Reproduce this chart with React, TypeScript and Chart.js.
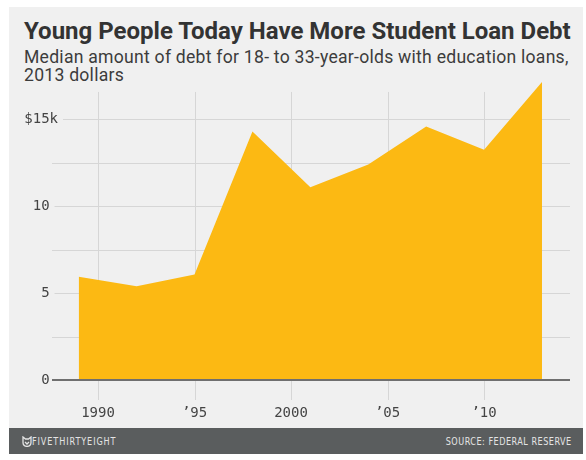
import React, { useEffect, useRef } from "react";
import Chart, { ChartConfiguration } from "chart.js/auto";

// survey years and median debt (thousands of 2013 dollars)
const years = [1989, 1992, 1995, 1998, 2001, 2004, 2007, 2010, 2013];
const medianDebt = [5.95, 5.4, 6.08, 14.3, 11.1, 12.4, 14.6, 13.25, 17.15];

const xTickYears = [1990, 1995, 2000, 2005, 2010];
const xTickLabels = ["1990", "\u201995", "2000", "\u201905", "\u201910"];
const yTickValues = [0, 5, 10, 15];
const yTickLabels = ["0", "5", "10", "$15k"];
const yGridValues = [2.5, 5, 7.5, 10, 12.5, 15];

const TICK_FONT = "DejaVu Sans Mono";
const Y_PAD = 6;
const LINE_INSET = 12; // grid lines start this far left of the plot area

// numbers right-aligned, "$" and "k" hang past them
function yTickLabel(i: number): string {
  const lab = yTickLabels[i];
  return lab.endsWith("k") ? lab : lab + " ";
}

const gridPlugin = {
  id: "grid538",
  beforeDatasetsDraw(chart: any) {
    const { ctx, chartArea, scales } = chart;
    const xs = scales.x;
    const ys = scales.y;
    ctx.save();
    ctx.strokeStyle = "#d6d6d6";
    ctx.lineWidth = 1;
    // vertical lines, also running down past the baseline as ticks
    const top = ys.getPixelForValue(16.58);
    xTickYears.forEach((yr) => {
      const x = Math.round(xs.getPixelForValue(yr)) + 0.5;
      ctx.beginPath();
      ctx.moveTo(x, top);
      ctx.lineTo(x, chartArea.bottom + 20);
      ctx.stroke();
    });
    // horizontal lines start just after their label
    ctx.font = `14px "${TICK_FONT}"`;
    const anchor = ys.right - Y_PAD;
    yGridValues.forEach((v) => {
      const y = Math.round(ys.getPixelForValue(v)) + 0.5;
      let start = chartArea.left - LINE_INSET;
      const i = yTickValues.indexOf(v);
      if (i >= 0) {
        const lab = yTickLabel(i);
        const trail = ctx.measureText(lab).width - ctx.measureText(lab.trimEnd()).width;
        start = Math.max(start, anchor - trail + 5);
      }
      ctx.beginPath();
      ctx.moveTo(start, y);
      ctx.lineTo(chartArea.right, y);
      ctx.stroke();
    });
    ctx.restore();
  },
  afterDatasetsDraw(chart: any) {
    const { ctx, chartArea, scales } = chart;
    const y = scales.y.getPixelForValue(0);
    ctx.save();
    ctx.strokeStyle = "#6f6f6f";
    ctx.lineWidth = 2;
    ctx.beginPath();
    ctx.moveTo(chartArea.left - LINE_INSET, y);
    ctx.lineTo(chartArea.right, y);
    ctx.stroke();
    ctx.restore();
  },
};

function DebtChart(): JSX.Element {
  const chartRef = useRef<HTMLCanvasElement | null>(null);
  const chartInstance = useRef<Chart | null>(null);

  useEffect(() => {
    if (!chartRef.current) return;
    const ctx = chartRef.current.getContext("2d");
    if (!ctx) return;
    if (chartInstance.current) chartInstance.current.destroy();

    const config: ChartConfiguration<"line"> = {
      type: "line",
      data: {
        datasets: [
          {
            label: "Median debt",
            data: years.map((yr, i) => ({ x: yr, y: medianDebt[i] })),
            fill: "origin",
            backgroundColor: "#fcb913",
            borderWidth: 0,
            pointRadius: 0,
            tension: 0,
          },
        ],
      },
      options: {
        animation: false,
        responsive: false,
        layout: { padding: { top: 6, right: 13, left: 0, bottom: 0 } },
        plugins: {
          legend: { display: false },
          tooltip: { enabled: false },
        },
        scales: {
          x: {
            type: "linear",
            min: 1988.238,
            max: 2014.451,
            grid: { display: false, drawTicks: false },
            border: { display: false },
            afterBuildTicks: (scale: any) => {
              scale.ticks = xTickYears.map((v) => ({ value: v }));
            },
            afterFit: (scale: any) => {
              scale.height = 48;
              scale.paddingLeft = 0;
              scale.paddingRight = 0;
            },
            ticks: {
              autoSkip: false,
              maxRotation: 0,
              padding: 25,
              color: "#444",
              font: { family: TICK_FONT, size: 14 },
              callback: (_v: any, i: number) => xTickLabels[i],
            },
          },
          y: {
            min: 0,
            max: 17.5,
            grid: { display: false, drawTicks: false },
            border: { display: false },
            afterBuildTicks: (scale: any) => {
              scale.ticks = yTickValues.map((v) => ({ value: v }));
            },
            afterFit: (scale: any) => {
              scale.width = 55;
              scale.paddingTop = 0;
              scale.paddingBottom = 0;
            },
            ticks: {
              padding: Y_PAD,
              color: "#444",
              font: { family: TICK_FONT, size: 14 },
              callback: (_v: any, i: number) => yTickLabel(i),
            },
          },
        },
      },
      plugins: [gridPlugin],
    };

    chartInstance.current = new Chart(ctx, config);
    return () => {
      chartInstance.current?.destroy();
      chartInstance.current = null;
    };
  }, []);

  return <canvas ref={chartRef} width={574} height={358} style={{ display: "block" }} />;
}

const footText: React.CSSProperties = {
  position: "absolute",
  top: 7,
  transform: "scaleX(0.82)",
};

export default function App(): JSX.Element {
  return (
    <div style={{ position: "absolute", left: 0, top: 0, width: 586, height: 460, background: "#fff" }}>
      <div
        style={{
          position: "absolute",
          left: 9,
          top: 7,
          width: 574,
          height: 447,
          background: "#f0f0f0",
          fontFamily: "Roboto, sans-serif",
          overflow: "hidden",
        }}
      >
        <div
          style={{
            position: "absolute",
            left: 15,
            top: 12,
            fontSize: 24,
            lineHeight: "24px",
            fontWeight: 700,
            color: "#333",
            whiteSpace: "nowrap",
          }}
        >
          Young People Today Have More Student Loan Debt
        </div>
        <div
          style={{
            position: "absolute",
            left: 15,
            top: 42,
            width: 560,
            fontSize: 17.6,
            lineHeight: "17.7px",
            letterSpacing: 0.25,
            color: "#3c3c3c",
            whiteSpace: "nowrap",
          }}
        >
          Median amount of debt for 18- to 33-year-olds with education loans,
          <br />
          2013 dollars
        </div>
        <div style={{ position: "absolute", left: 0, top: 63 }}>
          <DebtChart />
        </div>
        <div
          style={{
            position: "absolute",
            left: 0,
            top: 421,
            width: 574,
            height: 26,
            background: "#5a5d5e",
            color: "#e4e4e4",
            fontFamily: '"Liberation Sans Narrow", "DejaVu Sans Condensed", sans-serif',
            fontSize: 11,
            letterSpacing: 0.6,
          }}
        >
          <svg width="10" height="11" viewBox="0 0 10 11" style={{ position: "absolute", left: 13, top: 8 }}>
            <path
              d="M1 1 L3.5 3 L6.5 3 L9 1 L9 6.5 Q9 10 5 10.5 Q1 10 1 6.5 Z M3 6 L5 8 L7 6"
              fill="none"
              stroke="#e4e4e4"
              strokeWidth="1.3"
            />
          </svg>
          <span style={{ ...footText, left: 23, letterSpacing: 1.1, transformOrigin: "left center" }}>
            FIVETHIRTYEIGHT
          </span>
          <span style={{ ...footText, right: 11, transformOrigin: "right center" }}>SOURCE: FEDERAL RESERVE</span>
        </div>
      </div>
    </div>
  );
}
